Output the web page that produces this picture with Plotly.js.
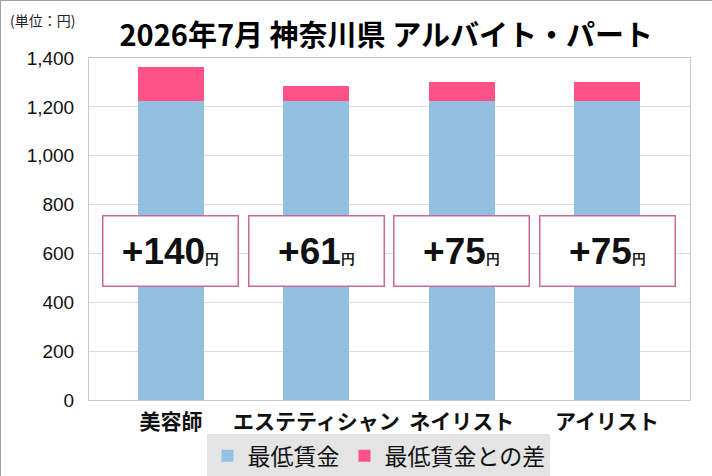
<!DOCTYPE html>
<html>
<head>
<meta charset="utf-8">
<script src="https://cdn.plot.ly/plotly-3.0.1.min.js"></script>
<style>
  html, body { margin: 0; padding: 0; background: #fff; }
  #chart { width: 712px; height: 476px; box-sizing: border-box; border: 1px solid #a0a0a0; }
</style>
</head>
<body>
<div id="chart"></div>
<script>
// categories and values
var jobs = ['美容師', 'エステティシャン', 'ネイリスト', 'アイリスト'];
var minimumWage = [1225, 1225, 1225, 1225];
var difference = [140, 61, 75, 75];
var diffLabels = ['+140', '+61', '+75', '+75'];

var jpFont = '"Noto Sans CJK JP", "Noto Sans", sans-serif';
var numFont = '"Liberation Sans", Arial, sans-serif';

var plotlyData = [
    {
        x: jobs,
        y: minimumWage,
        type: 'bar',
        name: '最低賃金',
        marker: { color: '#93bfe0' },
        hoverinfo: 'y'
    },
    {
        x: jobs,
        y: difference,
        type: 'bar',
        name: '最低賃金との差',
        marker: { color: '#ff5289' },
        hoverinfo: 'y'
    }
];

// boxes with the difference in the middle of each bar
var annotations = [];
for (var i = 0; i < jobs.length; i++) {
    annotations.push({
        x: jobs[i],
        y: 612,
        xref: 'x',
        yref: 'y',
        text: '<b>' + diffLabels[i] + '</b><span style="font-size:14px"><b>円</b></span>',
        showarrow: false,
        font: { family: numFont, size: 37, color: '#111' },
        bgcolor: '#ffffff',
        bordercolor: '#c66a9e',
        borderwidth: 1.5,
        width: 132,
        height: 67,
        align: 'center',
        valign: 'middle'
    });
}

annotations.push({
    text: '(単位：円)',
    xref: 'paper',
    yref: 'paper',
    x: -0.135,
    y: 1.11,
    xanchor: 'left',
    yanchor: 'middle',
    showarrow: false,
    font: { family: jpFont, size: 14, color: '#222' }
});

var plotlyLayout = {
    width: 712,
    height: 476,
    margin: { l: 88, r: 23, t: 57, b: 77, autoexpand: false },
    paper_bgcolor: '#ffffff',
    plot_bgcolor: '#ffffff',
    barmode: 'stack',
    bargap: 0.546,
    title: {
        text: '<b>2026年7月 神奈川県 アルバイト・パート</b>',
        font: { family: jpFont, size: 29, color: '#000' },
        x: 0.541,
        xanchor: 'center',
        y: 0.927,
        yanchor: 'middle'
    },
    xaxis: {
        range: [-0.564, 3.571],
        tickangle: 0,
        automargin: false,
        tickfont: { family: jpFont, size: 21, color: '#111' },
        tickprefix: '<b>',
        ticksuffix: '</b>',
        showline: true,
        linecolor: '#c8c8c8',
        mirror: true,
        ticks: '',
        ticklabelstandoff: 3
    },
    yaxis: {
        range: [0, 1400],
        dtick: 200,
        tickformat: ',d',
        automargin: false,
        tickfont: { family: numFont, size: 19, color: '#111' },
        gridcolor: '#dcdcdc',
        showline: true,
        linecolor: '#c8c8c8',
        mirror: true,
        zeroline: false,
        ticks: '',
        ticklabelstandoff: 10
    },
    legend: {
        orientation: 'h',
        traceorder: 'normal',
        x: 0.4825,
        xanchor: 'center',
        y: -0.163,
        yanchor: 'middle',
        bgcolor: '#e4e4e4',
        font: { family: jpFont, size: 23, color: '#111' },
        itemwidth: 30,
        tracegroupgap: 0
    },
    annotations: annotations,
    showlegend: true
};

var plotlyConfig = {
    displayModeBar: false,
    responsive: false
};

Plotly.newPlot('chart', plotlyData, plotlyLayout, plotlyConfig);
</script>
</body>
</html>
